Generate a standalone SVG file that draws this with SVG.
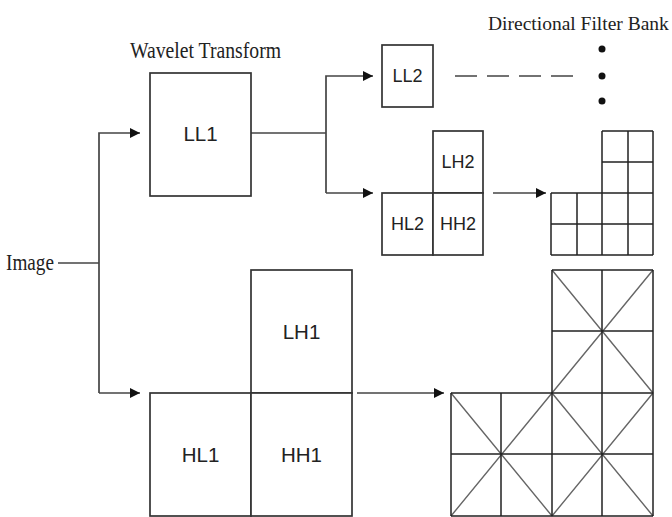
<svg xmlns="http://www.w3.org/2000/svg" width="672" height="517" viewBox="0 0 672 517">
<defs>
<marker id="ah" viewBox="0 0 10 10" refX="10" refY="5" markerWidth="10" markerHeight="10" markerUnits="userSpaceOnUse" orient="auto">
<path d="M0,0 L10,5 L0,10 z" fill="#111"/>
</marker>
</defs>
<style>
.box{fill:#fff;stroke:#333;stroke-width:1.7}
.ln{fill:none;stroke:#444;stroke-width:1.7}
.diag{fill:none;stroke:#666;stroke-width:1.4}
.grid{fill:none;stroke:#222;stroke-width:1.5}
.lbl{font-family:"Liberation Sans",Arial,sans-serif;fill:#222;text-anchor:middle}
.big{font-size:20.5px}
.sm{font-size:18px}
.ser{font-family:"Liberation Serif","Times New Roman",serif;font-size:23px;fill:#222}
.ser2{font-family:"Liberation Serif","Times New Roman",serif;font-size:19.5px;fill:#222}
</style>
<rect width="672" height="517" fill="#fff"/>
<g id="titles">
<text class="ser" x="130" y="58" textLength="151" lengthAdjust="spacingAndGlyphs">Wavelet Transform</text>
<text class="ser2" x="488" y="30">Directional Filter Bank</text>
</g>
<g id="image">
<text class="ser" x="6" y="270" textLength="48" lengthAdjust="spacingAndGlyphs">Image</text>
</g>
<g id="connectors">
<path class="ln" d="M58,263 H99"/>
<path class="ln" d="M99,393 V133 H140" marker-end="url(#ah)"/>
<path class="ln" d="M99,393 H140" marker-end="url(#ah)"/>
<path class="ln" d="M251,133 H326"/>
<path class="ln" d="M326,193 V76 H373" marker-end="url(#ah)"/>
<path class="ln" d="M326,193 H373" marker-end="url(#ah)"/>
<path class="ln" d="M493,193 H546" marker-end="url(#ah)"/>
<path class="ln" d="M357,393 H444" marker-end="url(#ah)"/>
<path class="ln" d="M455,76 H573" stroke-dasharray="22,10" stroke="#777"/>
</g>
<g id="dots" fill="#111">
<circle cx="602" cy="49" r="3.5"/>
<circle cx="602" cy="76" r="3.5"/>
<circle cx="602" cy="101" r="3.5"/>
</g>
<g id="LL1"><rect class="box" x="150" y="73" width="101" height="123"/><text class="lbl big" x="200.5" y="141">LL1</text></g>
<g id="LL2"><rect class="box" x="382" y="45" width="51" height="62"/><text class="lbl sm" x="407.5" y="82">LL2</text></g>
<g id="LH2"><rect class="box" x="433" y="131" width="50" height="62"/><text class="lbl sm" x="458" y="168">LH2</text></g>
<g id="HL2"><rect class="box" x="382" y="193" width="51" height="62"/><text class="lbl sm" x="407.5" y="230">HL2</text></g>
<g id="HH2"><rect class="box" x="433" y="193" width="50" height="62"/><text class="lbl sm" x="458" y="230">HH2</text></g>
<g id="LH1"><rect class="box" x="251" y="270" width="101" height="123"/><text class="lbl big" x="301.5" y="339">LH1</text></g>
<g id="HL1"><rect class="box" x="150" y="393" width="101" height="123"/><text class="lbl big" x="200.5" y="462">HL1</text></g>
<g id="HH1"><rect class="box" x="251" y="393" width="101" height="123"/><text class="lbl big" x="301.5" y="462">HH1</text></g>
<g id="small-grid">
<path class="grid" d="M551,193 H653 M551,224 H653 M551,255 H653 M551,193 V255 M577,193 V255 M602,131 V255 M628,131 V255 M653,131 V255 M602,131 H653 M602,162 H653"/>
</g>
<g id="big-grid">
<path class="diag" d="M451,393 L552,516 M552,393 L451,516 M552,393 L653,516 M653,393 L552,516 M552,270 L653,393 M653,270 L552,393"/>
<path class="grid" d="M451,393 H653 M451,454 H653 M451,516 H653 M451,393 V516 M501,393 V516 M552,270 V516 M602,270 V516 M653,270 V516 M552,270 H653 M552,331 H653"/>
</g>
</svg>
